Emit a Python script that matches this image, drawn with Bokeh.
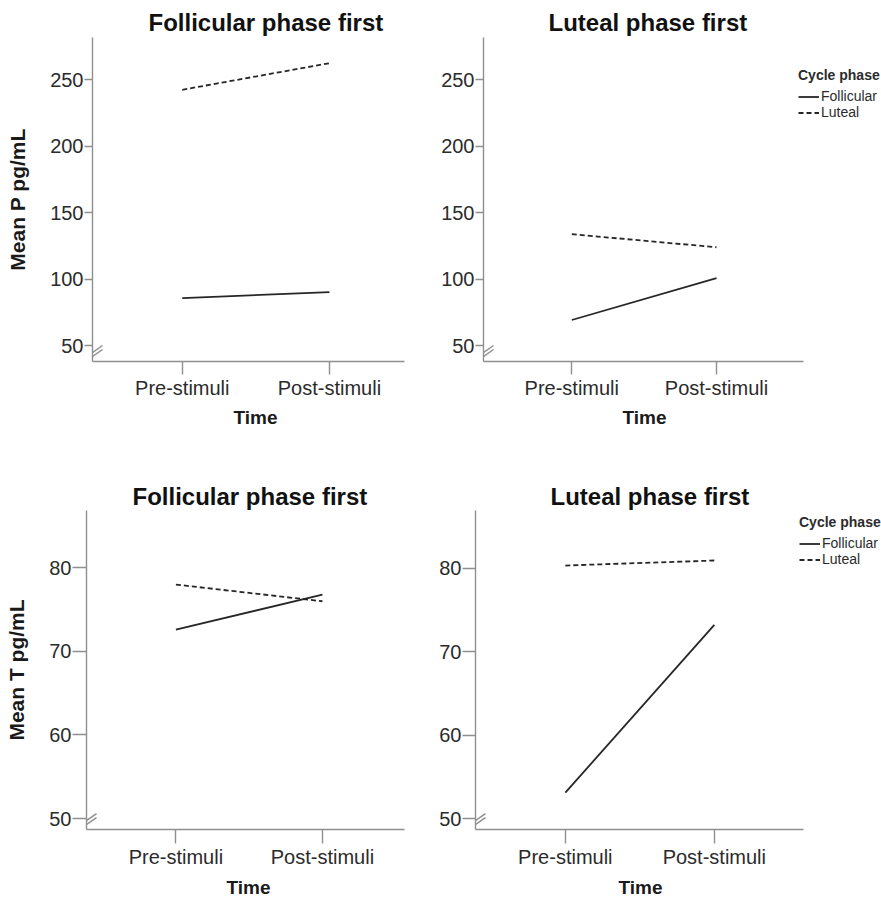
from bokeh.plotting import figure
from bokeh.layouts import column, row
from bokeh.models import Legend, LegendItem, FixedTicker, Range1d, Arrow, Title
from bokeh.embed import file_html
from bokeh.resources import INLINE

# ---------------- data ----------------
times = ["Pre-stimuli", "Post-stimuli"]
phases = ["Follicular", "Luteal"]
panel_titles = ["Follicular phase first", "Luteal phase first"]
x_title = "Time"

# Progesterone (pg/mL)
p_follfirst_follicular = [85.7, 90.2]
p_follfirst_luteal = [242.3, 262.3]
p_lutfirst_follicular = [69.2, 100.7]
p_lutfirst_luteal = [133.7, 123.9]

# Testosterone (pg/mL)
t_follfirst_follicular = [72.6, 76.8]
t_follfirst_luteal = [78.0, 76.0]
t_lutfirst_follicular = [53.1, 73.2]
t_lutfirst_luteal = [80.3, 80.9]

p_ticks = [50, 100, 150, 200, 250]
t_ticks = [50, 60, 70, 80]

FONT = "Liberation Sans"
AXIS_COLOR = "#8f8f8f"
LINE_COLOR = "#262626"
TEXT_COLOR = "#2b2b2b"


def make_panel(width, height, borders, xr, yr, ticks, title, title_offset,
               title_standoff, ylabel, ytick_len, xtick_len, series,
               time_offset, legend_loc=None, xbounds=None, ylabel_standoff=18,
               time_standoff=7, xlabel_tick_standoff=2):
    left, right, top, bottom = borders
    p = figure(width=width, height=height,
               x_range=Range1d(*xr), y_range=Range1d(*yr),
               output_backend="svg", toolbar_location=None,
               min_border_left=left, min_border_right=right,
               min_border_top=top, min_border_bottom=bottom)
    p.outline_line_color = None
    p.xgrid.visible = False
    p.ygrid.visible = False
    p.background_fill_color = "white"
    p.border_fill_color = "white"

    # title
    p.title.text = title
    p.title.align = "left"
    p.title.offset = title_offset
    p.title.standoff = title_standoff
    p.title.text_font = FONT
    p.title.text_font_size = "24px"
    p.title.text_font_style = "bold"
    p.title.text_color = "#111111"

    xpos = list(range(len(times)))

    # x axis
    xa = p.xaxis[0]
    xa.ticker = FixedTicker(ticks=xpos)
    if xbounds is not None:
        xa.bounds = xbounds
    xa.major_label_overrides = {i: t for i, t in zip(xpos, times)}
    xa.minor_tick_line_color = None
    xa.major_tick_in = 0
    xa.major_tick_out = xtick_len
    xa.major_label_standoff = xlabel_tick_standoff
    xa.axis_line_color = AXIS_COLOR
    xa.major_tick_line_color = AXIS_COLOR
    xa.axis_line_width = 1.4
    xa.major_tick_line_width = 1.4
    xa.major_label_text_font = FONT
    xa.major_label_text_font_size = "20px"
    xa.major_label_text_color = TEXT_COLOR

    # x axis title placed below the axis
    p.add_layout(Title(text=x_title, align="left", offset=time_offset,
                       standoff=time_standoff, text_font=FONT,
                       text_font_size="19px", text_font_style="bold",
                       text_color="#1a1a1a"), "below")

    # y axis
    ya = p.yaxis[0]
    ya.ticker = FixedTicker(ticks=ticks)
    ya.minor_tick_line_color = None
    ya.major_tick_in = 0
    ya.major_tick_out = ytick_len
    ya.major_label_standoff = 1
    ya.axis_line_color = AXIS_COLOR
    ya.major_tick_line_color = AXIS_COLOR
    ya.axis_line_width = 1.4
    ya.major_tick_line_width = 1.4
    ya.major_label_text_font = FONT
    ya.major_label_text_font_size = "20px"
    ya.major_label_text_color = TEXT_COLOR
    if ylabel:
        ya.axis_label = ylabel
        ya.axis_label_text_font = FONT
        ya.axis_label_text_font_size = "21px"
        ya.axis_label_text_font_style = "bold"
        ya.axis_label_text_color = "#1a1a1a"
        ya.axis_label_standoff = ylabel_standoff

    # series lines
    renderers = []
    for vals, dash in series:
        r = p.line(xpos, vals, line_color=LINE_COLOR, line_width=1.8,
                   line_dash=dash)
        renderers.append(r)

    # axis break marks (//) drawn at the axis origin
    fw = width - left - right
    fh = height - top - bottom
    dx = (xr[1] - xr[0]) / fw
    dy = (yr[1] - yr[0]) / fh
    x0, y0 = xr[0], yr[0]
    for off in (0, 4):
        p.add_layout(Arrow(start=None, end=None,
                           x_start=x0 - 7 * dx, y_start=y0 + off * dy,
                           x_end=x0 + 10 * dx, y_end=y0 + (off + 12) * dy,
                           line_color=AXIS_COLOR, line_width=1.5))

    if legend_loc is not None:
        items = [LegendItem(label=ph, renderers=[r])
                 for ph, r in zip(phases, renderers)]
        leg = Legend(items=items, location=legend_loc, title="Cycle phase")
        leg.title_text_font = FONT
        leg.title_text_font_size = "14px"
        leg.title_text_font_style = "bold"
        leg.title_text_color = TEXT_COLOR
        leg.title_standoff = 5
        leg.label_text_font = FONT
        leg.label_text_font_size = "14px"
        leg.label_text_color = TEXT_COLOR
        leg.glyph_width = 21
        leg.glyph_height = 15
        leg.label_height = 15
        leg.label_standoff = 2
        leg.spacing = 0
        leg.padding = 0
        leg.margin = 0
        leg.border_line_color = None
        leg.background_fill_alpha = 0
        p.add_layout(leg)
    return p


SOLID = "solid"
DASH = "5 3"

tl = make_panel(436, 460, (92, 32, 37, 99), (-0.61, 1.51), (38, 281.6),
                p_ticks, panel_titles[0], 56, 3, "Mean P pg/mL", 8, 13,
                [(p_follfirst_follicular, SOLID), (p_follfirst_luteal, DASH)],
                time_offset=141)
tr = make_panel(445, 460, (47, 0, 37, 99), (-0.61, 2.14), (38, 281.6),
                p_ticks, panel_titles[1], 65, 3, None, 8, 13,
                [(p_lutfirst_follicular, SOLID), (p_lutfirst_luteal, DASH)],
                time_offset=139, legend_loc=(315, 241),
                xbounds=(-0.61, 1.60))
bl = make_panel(436, 441, (86, 32, 49, 71), (-0.61, 1.56), (48.69, 86.86),
                t_ticks, panel_titles[0], 46, 1, "Mean T pg/mL", 14, 14,
                [(t_follfirst_follicular, SOLID), (t_follfirst_luteal, DASH)],
                time_offset=140, xlabel_tick_standoff=2, time_standoff=8)
br = make_panel(445, 441, (37, 0, 50, 71), (-0.603, 2.122), (48.69, 86.89),
                t_ticks, panel_titles[1], 75, 1, None, 13, 14,
                [(t_lutfirst_follicular, SOLID), (t_lutfirst_luteal, DASH)],
                time_offset=143, legend_loc=(324, 262),
                xbounds=(-0.603, 1.60), xlabel_tick_standoff=2,
                time_standoff=8)

layout = column(row(tl, tr, spacing=0), row(bl, br, spacing=0), spacing=0)

open("out.html", "w").write(file_html(layout, INLINE))
